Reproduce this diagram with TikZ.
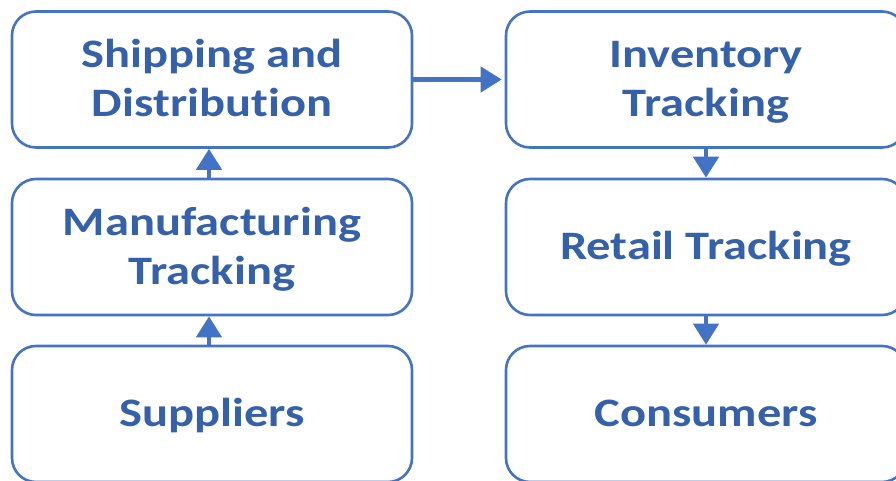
\documentclass[tikz,border=0pt]{standalone}
\usepackage{fontspec}
\setmainfont{Carlito}[FakeStretch=1.2, Ligatures=NoCommon]
\usetikzlibrary{arrows.meta}
\definecolor{frame}{HTML}{4472C4}
\definecolor{ink}{HTML}{3560AA}
% uniform line box so every label sits on the same baseline grid
\newcommand\lnstrut{\rule[-11.5pt]{0pt}{48.5pt}}
\tikzset{
  stage/.style={draw=frame, line width=2.6pt, rounded corners=24pt,
    minimum width=400pt, minimum height=136pt, inner sep=0pt,
    align=center, text=ink,
    font=\fontsize{40.4}{48.5}\selectfont\bfseries},
  flow/.style={draw=frame, fill=frame, line width=4.5pt,
    -{Triangle[length=21pt,width=25pt]}}
}
\begin{document}
\begin{tikzpicture}[x=1pt, y=-1pt]
  \clip (0,0) rectangle (896,481);
  \fill[white] (0,0) rectangle (896,481);
  % left column: upstream stages
  \node[stage] (ship) at (212,79.5) {\lnstrut Shipping and\\\lnstrut Distribution};
  \node[stage] (manu) at (212,247)  {\lnstrut Manufacturing\\\lnstrut Tracking};
  \node[stage] (supp) at (212,414)  {\lnstrut Suppliers};
  % right column: downstream stages
  \node[stage] (inv)  at (706,79.5) {\lnstrut Inventory\\\lnstrut Tracking};
  \node[stage] (ret)  at (706,247)  {\lnstrut Retail Tracking};
  \node[stage] (cons) at (706,414)  {\lnstrut Consumers};
  % flow of goods
  \draw[flow] ([xshift=-3pt]supp.north) -- ([xshift=-3pt]manu.south);
  \draw[flow] ([xshift=-3pt]manu.north) -- ([xshift=-3pt]ship.south);
  \draw[flow, shorten >=3pt] (ship.east) -- (inv.west);
  \draw[flow] (inv.south) -- (ret.north);
  \draw[flow] (ret.south) -- (cons.north);
\end{tikzpicture}
\end{document}
